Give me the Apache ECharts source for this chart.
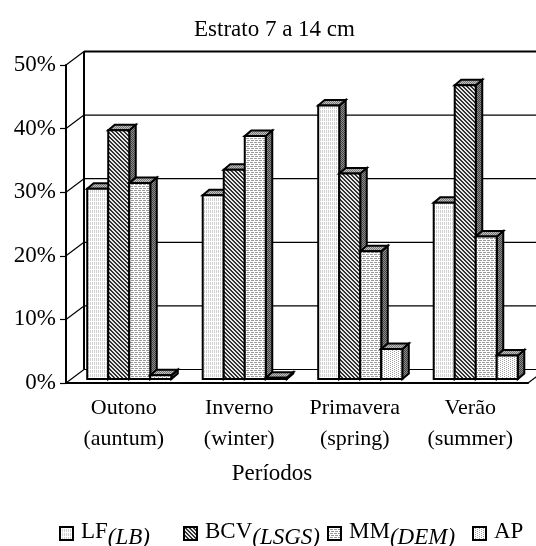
<!DOCTYPE html>
<html>
<head>
<meta charset="utf-8">
<style>
html, body { margin: 0; padding: 0; background: #fff; }
#chart { width: 536px; height: 546px; }
</style>
<script src="https://cdn.jsdelivr.net/npm/echarts@6/dist/echarts.min.js"></script>
</head>
<body>
<div id="chart"></div>
<script>
var categories = ['Outono\n(auntum)', 'Inverno\n(winter)', 'Primavera\n(spring)', 'Verão\n(summer)']
var seriesNames = ['LF', 'BCV', 'MM', 'AP']
var lf = [29.9, 28.9, 43, 27.7]
var bcv = [39.1, 32.9, 32.3, 46.2]
var mm = [30.8, 38.2, 20.1, 22.4]
var ap = [0.6, 0.2, 4.7, 3.7]
var wallTicks = [0, 10, 20, 30, 40, 50]

var fontFamily = '"Liberation Serif", "Times New Roman", serif'
// depth of the fake 3d box
var wallDx = 18
var wallDy = 13.5
var barDx = 6.5
var barDy = 5.5
var barOffsetX = 5.5
var barOffsetY = 4

// small dither tiles, like the old excel fills
function tile (rows, ink, paper) {
  var c = document.createElement('canvas')
  c.width = rows[0].length
  c.height = rows.length
  var ctx = c.getContext('2d')
  ctx.fillStyle = paper
  ctx.fillRect(0, 0, c.width, c.height)
  ctx.fillStyle = ink
  for (var y = 0; y < rows.length; y++) {
    for (var x = 0; x < rows[y].length; x++) {
      if (rows[y][x] === '#') ctx.fillRect(x, y, 1, 1)
    }
  }
  return { image: c, repeat: 'repeat' }
}
var fills = [
  tile(['#.#.', '....', '#.#.', '#.#.'], '#cfcfcf', '#fff'),
  tile(['##..', '.##.', '..##', '#..#'], '#333', '#e8e8e8'),
  tile(['##.#', '....', '#.##', '....'], '#9a9a9a', '#fff'),
  tile(['#...', '..#.', '#...', '..#.'], '#a0a0a0', '#fff')
]
var topFill = tile(['#.', '.#'], '#777', '#c0c0c0')
var sideFill = tile(['#.', '.#'], '#444', '#8c8c8c')

function renderWall (params, api) {
  var sys = params.coordSys
  var v = api.value(1)
  var y = api.coord([0, v])[1]
  var children = [
    { type: 'line', shape: { x1: sys.x, y1: y, x2: sys.x + wallDx, y2: y - wallDy }, style: { stroke: '#000', lineWidth: 1.2 } },
    { type: 'line', shape: { x1: sys.x + wallDx, y1: y - wallDy, x2: sys.x + sys.width + wallDx, y2: y - wallDy }, style: { stroke: '#000', lineWidth: v === 50 ? 2 : 1.2 } }
  ]
  if (v === 0) {
    children.push({ type: 'line', shape: { x1: sys.x + sys.width, y1: y, x2: sys.x + sys.width + wallDx, y2: y - wallDy }, style: { stroke: '#000', lineWidth: 1.2 } })
    children.push({ type: 'line', shape: { x1: sys.x + wallDx, y1: y - wallDy, x2: sys.x + wallDx, y2: sys.y - wallDy }, style: { stroke: '#000', lineWidth: 2 } })
  }
  return { type: 'group', children: children }
}

function makeBarRenderer (seriesIndex) {
  return function (params, api) {
    var base = api.coord([api.value(0), 0])
    var top = api.coord([api.value(0), api.value(1)])
    var w = api.size([1, 0])[0] * 0.182
    var x0 = base[0] + barOffsetX + (seriesIndex - 2) * w
    var x1 = x0 + w
    var y0 = base[1] - barOffsetY
    var y1 = top[1] - barOffsetY
    var line = { stroke: '#000', lineWidth: 2, lineJoin: 'miter' }
    function face (points, fill) {
      return { type: 'polygon', shape: { points: points }, style: Object.assign({ fill: fill }, line) }
    }
    return {
      type: 'group',
      children: [
        face([[x1, y1], [x1 + barDx, y1 - barDy], [x1 + barDx, y0 - barDy], [x1, y0]], sideFill),
        face([[x0, y1], [x0 + barDx, y1 - barDy], [x1 + barDx, y1 - barDy], [x1, y1]], topFill),
        face([[x0, y1], [x1, y1], [x1, y0], [x0, y0]], fills[seriesIndex])
      ]
    }
  }
}

var barValues = [lf, bcv, mm, ap]
var series = [{
  name: 'wall',
  type: 'custom',
  clip: false,
  z: 1,
  silent: true,
  renderItem: renderWall,
  data: wallTicks.map(function (v) { return [0, v] })
}]
seriesNames.forEach(function (name, i) {
  series.push({
    name: name,
    type: 'custom',
    clip: false,
    z: 3 + i,
    renderItem: makeBarRenderer(i),
    itemStyle: { color: fills[i], borderColor: '#000', borderWidth: 2 },
    data: barValues[i].map(function (v, c) { return [c, v] })
  })
})

// one legend per entry, the original spacing is uneven
var legendLeft = [59, 183, 327, 472]
var legendText = {
  LF: '{a|LF}{b|(LB)}',
  BCV: '{a|BCV}{b|(LSGS)}',
  MM: '{a|MM}{b|(DEM)}',
  AP: '{a|AP}'
}
var legends = seriesNames.map(function (name, i) {
  return {
    data: [name],
    left: legendLeft[i],
    top: 520,
    padding: 0,
    icon: 'rect',
    itemWidth: 13,
    itemHeight: 13,
    itemGap: 0,
    selectedMode: false,
    itemStyle: { color: fills[i], borderColor: '#000', borderWidth: 2 },
    formatter: function (n) { return legendText[n] },
    textStyle: {
      rich: {
        a: { fontFamily: fontFamily, fontSize: 23, color: '#000', padding: [0, 0, 4, 3] },
        b: { fontFamily: fontFamily, fontSize: 23, fontStyle: 'italic', color: '#000', padding: [8, 0, 0, 0] }
      }
    }
  }
})

var myChart = echarts.init(document.getElementById('chart'))
myChart.setOption({
  animation: false,
  backgroundColor: '#fff',
  title: {
    text: 'Estrato 7 a 14 cm',
    left: 194,
    top: 18,
    padding: 0,
    textStyle: { fontFamily: fontFamily, fontSize: 23, fontWeight: 'normal', color: '#000' }
  },
  legend: legends,
  grid: { left: 66, top: 65, width: 462, height: 318 },
  xAxis: {
    type: 'category',
    data: categories,
    name: 'Períodos',
    nameLocation: 'middle',
    nameGap: 79,
    nameTextStyle: { fontFamily: fontFamily, fontSize: 23, color: '#000', padding: [0, 50, 0, 0] },
    axisLine: { lineStyle: { color: '#000', width: 2 } },
    axisTick: { length: 6, lineStyle: { color: '#000', width: 1.2 } },
    axisLabel: { interval: 0, hideOverlap: false, fontFamily: fontFamily, fontSize: 22, color: '#000', lineHeight: 31, margin: 10 }
  },
  yAxis: {
    type: 'value',
    min: 0,
    max: 50,
    interval: 10,
    splitLine: { show: false },
    axisLine: { show: true, lineStyle: { color: '#000', width: 2 } },
    axisTick: { show: true, length: 6, lineStyle: { color: '#000', width: 1.2 } },
    axisLabel: { formatter: '{value}%', fontFamily: fontFamily, fontSize: 23, color: '#000', margin: 10 }
  },
  series: series
})
</script>
</body>
</html>
